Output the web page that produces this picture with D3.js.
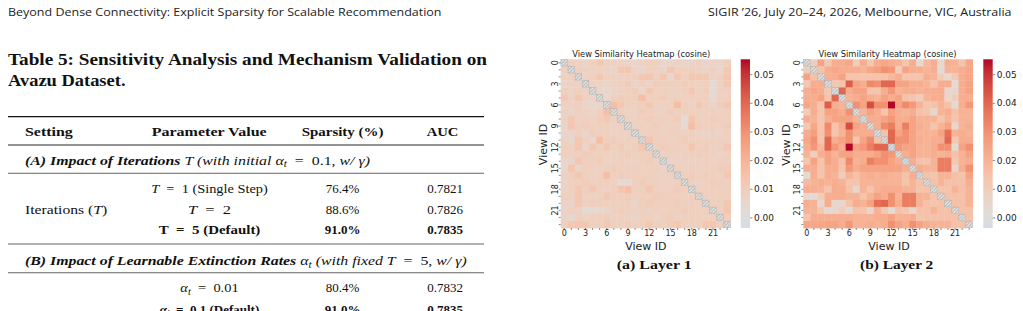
<!DOCTYPE html>
<html>
<head>
<meta charset="utf-8">
<script src="https://cdn.jsdelivr.net/npm/d3@7/dist/d3.min.js"></script>
<style>
  html, body { margin: 0; padding: 0; background: #fff; }
  svg { display: block; }
</style>
</head>
<body>
<svg id="page" width="1023" height="311"></svg>
<script>
// ---------- data ----------
const viewIds = d3.range(24);
const tickIds = [0, 3, 6, 9, 12, 15, 18, 21];
const cbarTicks = [0, 0.01, 0.02, 0.03, 0.04, 0.05];
const VMIN = -0.0037, VMAX = 0.0552;

// cosine similarity, lower triangle (row i holds cols 0..i-1), in units of 0.001
const layer1Lower = [
  [9],
  [8, 9],
  [6, 8, 8],
  [9, 8, 9, 8],
  [12, 8, 12, 8, 6],
  [8, 8, 9, 6, 5, 5],
  [8, 6, 9, 8, 6, 9, 16],
  [8, 12, 8, 9, 8, 10, 12, 9],
  [6, 13, 9, 10, 9, 9, 9, 8, 9],
  [5, 6, 9, 6, 10, 9, 9, 8, 8, 8],
  [8, 5, 12, 9, 5, 16, 9, 10, 9, 9, 8],
  [9, 9, 13, 6, 12, 9, 12, 9, 10, 8, 9, 13],
  [9, 8, 9, 10, 9, 9, 8, 8, 9, 10, 9, 9, 9],
  [5, 6, 12, 9, 9, 10, 8, 8, 9, 8, 8, 9, 10, 8],
  [5, 13, 5, 9, 8, 8, 9, 10, 9, 9, 9, 8, 9, 9, 6],
  [8, 9, 12, 9, 8, 9, 16, 9, 10, 9, 9, 9, 9, 8, 8, 9],
  [6, 9, 9, 10, 9, 9, 9, 9, 3, 3, 9, 10, 9, 9, 8, 8, 9],
  [6, 9, 12, 9, 12, 9, 8, 9, 13, 16, 9, 9, 13, 9, 8, 9, 10, 9],
  [9, 8, 12, 8, 8, 9, 12, 9, 9, 10, 8, 9, 9, 10, 9, 9, 9, 8, 9],
  [6, 6, 12, 9, 10, 9, 9, 9, 9, 9, 6, 9, 10, 9, 9, 9, 10, 9, 9, 9],
  [6, 9, 8, 3, 3, 4, 6, 9, 10, 9, 8, 9, 8, 9, 8, 9, 9, 10, 9, 9, 9],
  [6, 5, 9, 8, 9, 9, 10, 8, 9, 8, 6, 9, 9, 6, 9, 10, 8, 9, 9, 9, 9, 9],
  [9, 12, 13, 12, 9, 9, 12, 9, 9, 10, 9, 9, 12, 9, 9, 10, 12, 9, 9, 9, 12, 13, 9]
];

const layer2Lower = [
  [10],
  [25, 15],
  [12, 22, 22],
  [22, 24, 22, 12],
  [22, 22, 25, 14, 40],
  [24, 22, 14, 42, 22, 20],
  [10, 22, 14, 25, 25, 22, 30],
  [22, 20, 14, 22, 25, 25, 25, 20],
  [12, 24, 14, 32, 14, 22, 45, 25, 22],
  [22, 26, 14, 30, 14, 20, 30, 22, 22, 22],
  [24, 30, 14, 40, 22, 25, 30, 14, 25, 32, 15],
  [22, 28, 18, 40, 28, 22, 55, 25, 28, 35, 40, 40],
  [20, 10, 22, 25, 20, 25, 25, 22, 22, 22, 25, 30, 28],
  [14, 25, 14, 25, 22, 15, 32, 20, 22, 35, 30, 30, 25, 22],
  [22, 22, 14, 22, 22, 14, 28, 22, 25, 25, 25, 25, 25, 25, 22],
  [3, 22, 14, 22, 20, 10, 20, 15, 20, 22, 20, 22, 20, 20, 15, 22],
  [18, 20, 22, 20, 22, 20, 14, 14, 20, 20, 20, 20, 20, 20, 14, 20, 15],
  [22, 22, 20, 14, 22, 22, 15, 5, 20, 14, 20, 22, 22, 22, 20, 20, 14, 15],
  [4, 2, 10, 22, 22, 22, 20, 20, 14, 20, 25, 22, 30, 20, 35, 35, 20, 20, 14],
  [22, 20, 4, 22, 5, 5, 15, 22, 20, 25, 38, 40, 30, 22, 35, 35, 20, 15, 14, 15],
  [20, 20, 12, 3, 5, 10, 3, 15, 14, 5, 20, 12, 3, 15, 12, 5, 15, 15, 20, 15, 15],
  [14, 22, 22, 22, 22, 22, 22, 20, 20, 20, 22, 22, 25, 20, 20, 22, 14, 15, 15, 15, 15, 15],
  [24, 24, 24, 25, 25, 22, 28, 20, 20, 22, 20, 22, 30, 25, 22, 30, 25, 22, 20, 20, 20, 15, 15]
];

// table 5
const tableHeader = ["Setting", "Parameter Value", "Sparsity (%)", "AUC"];
const iterSparsity = ["76.4%", "88.6%", "91.0%"];
const iterAUC = ["0.7821", "0.7826", "0.7835"];
const rateSparsity = ["80.4%", "91.0%"];
const rateAUC = ["0.7832", "0.7835"];

// ---------- helpers ----------
const SERIF = "'Liberation Serif', 'DejaVu Serif', serif";
const SANS = "'DejaVu Sans', sans-serif";
const EQ = "\u2002=\u2002";  // math-style spacing around "="
const svg = d3.select("#page");

// matplotlib coolwarm (Moreland, 33 points)
const CW = [
  [0.2298, 0.2987, 0.7537], [0.2662, 0.3531, 0.8015], [0.3039, 0.4065, 0.8450], [0.3428, 0.4588, 0.8837],
  [0.3830, 0.5094, 0.9174], [0.4244, 0.5581, 0.9456], [0.4667, 0.6046, 0.9682], [0.5096, 0.6483, 0.9848],
  [0.5530, 0.6889, 0.9954], [0.5963, 0.7261, 0.9998], [0.6392, 0.7596, 0.9982], [0.6813, 0.7890, 0.9904],
  [0.7222, 0.8140, 0.9766], [0.7615, 0.8343, 0.9569], [0.7987, 0.8498, 0.9317], [0.8335, 0.8602, 0.9011],
  [0.8654, 0.8654, 0.8654], [0.8978, 0.8489, 0.8209], [0.9241, 0.8274, 0.7745], [0.9445, 0.8009, 0.7267],
  [0.9589, 0.7698, 0.6780], [0.9673, 0.7341, 0.6288], [0.9700, 0.6943, 0.5794], [0.9668, 0.6504, 0.5303],
  [0.9580, 0.6028, 0.4818], [0.9437, 0.5518, 0.4342], [0.9239, 0.4973, 0.3880], [0.8990, 0.4396, 0.3432],
  [0.8692, 0.3783, 0.3003], [0.8346, 0.3129, 0.2593], [0.7956, 0.2413, 0.2205], [0.7525, 0.1572, 0.1841],
  [0.7057, 0.0156, 0.1502]
];
function coolwarm(t) {
  t = Math.max(0, Math.min(1, t));
  const k = t * 32, i = Math.min(31, Math.floor(k)), f = k - i;
  const c = CW[i].map((a, n) => Math.round(255 * (a + (CW[i + 1][n] - a) * f)));
  return `rgb(${c[0]},${c[1]},${c[2]})`;
}
// seaborn center=0: symmetric range around zero
const color = v => coolwarm(0.5 + v / (2 * VMAX));

function fullMatrix(lower) {
  const M = viewIds.map(() => viewIds.map(() => NaN));
  lower.forEach((row, k) => row.forEach((v, j) => {
    M[k + 1][j] = v / 1000;
    M[j][k + 1] = v / 1000;
  }));
  return M;
}

// rich text: segments [text, style] with style b=bold, i=italic, _=subscript
function rich(parent, x, y, segs, o = {}) {
  const size = o.size || 13;
  const t = parent.append("text")
    .attr("x", x).attr("y", y)
    .attr("font-family", o.family || SERIF)
    .attr("font-size", size)
    .attr("font-weight", o.bold ? "bold" : null)
    .attr("text-anchor", o.anchor || "start")
    .attr("fill", o.fill || "#111");
  let down = false;
  segs.forEach(s => {
    const [str, st] = typeof s === "string" ? [s, ""] : [s[0], s[1] || ""];
    const sp = t.append("tspan").text(str);
    if (st.includes("b")) sp.attr("font-weight", "bold");
    if (st.includes("i")) sp.attr("font-style", "italic");
    if (st.includes("_")) {
      sp.attr("font-size", size * 0.72).attr("dy", size * 0.22);
      down = true;
    } else if (down) {
      sp.attr("dy", -size * 0.22);
      down = false;
    }
  });
  if (o.len) t.attr("textLength", o.len).attr("lengthAdjust", "spacingAndGlyphs");
  return t;
}

// ---------- page header ----------
rich(svg, 8, 15.5, ["Beyond Dense Connectivity: Explicit Sparsity for Scalable Recommendation"],
  { family: "'Open Sans', sans-serif", size: 11, len: 433.5, fill: "#222" });
rich(svg, 708, 15.5, ["SIGIR \u201926, July 20\u201324, 2026, Melbourne, VIC, Australia"],
  { family: "'Open Sans', sans-serif", size: 11, len: 303.5, fill: "#222" });

// ---------- table ----------
const tbl = svg.append("g");
rich(tbl, 8, 64.5, ["Table 5: Sensitivity Analysis and Mechanism Validation on"], { size: 17.5, bold: true, len: 479 });
rich(tbl, 8, 85.5, ["Avazu Dataset."], { size: 17.5, bold: true, len: 117.5 });

const rule = (y, w, c) => tbl.append("line").attr("x1", 8).attr("x2", 484)
  .attr("y1", y).attr("y2", y).attr("stroke", c).attr("stroke-width", w);
rule(116.7, 1.3, "#111");
rule(145, 0.9, "#111");
rule(173.3, 1.1, "#666");
rule(244, 1.1, "#666");
rule(272.7, 1.1, "#666");

const colX = [25, 209.5, 342.5, 445];
const hdrX = [25, 151.7, 301.7, 426.7], hdrW = [47.7, 115, 81.7, 31.7];
tableHeader.forEach((h, i) => rich(tbl, hdrX[i], 136, [h], { bold: true, len: hdrW[i] }));

rich(tbl, 25, 164.5, [["(A) Impact of Iterations ", "bi"], ["T", "i"], [" (with initial ", "i"],
  ["\u03b1", "i"], ["t", "i_"], [EQ + "0.1, "], ["w/ \u03b3)", "i"]], { len: 345 });

const iterParams = [
  [[["T", "i"], EQ + "1 (Single Step)"], 116.6, false],
  [[["T", "i"], EQ + "2"], 43, false],
  [["T" + EQ + "5 (Default)"], 101.7, true]
];
const iterY = [193.3, 213.5, 234];
iterParams.forEach((p, i) => {
  rich(tbl, colX[1], iterY[i], p[0], { anchor: "middle", len: p[1], bold: p[2] });
  rich(tbl, colX[2], iterY[i], [iterSparsity[i]], { anchor: "middle", bold: p[2] });
  rich(tbl, colX[3], iterY[i], [iterAUC[i]], { anchor: "middle", bold: p[2] });
});
rich(tbl, 25, 213.5, ["Iterations (", ["T", "i"], ")"], { len: 82.3 });

rich(tbl, 25, 265, [["(B) Impact of Learnable Extinction Rates ", "bi"], ["\u03b1", "i"], ["t", "i_"],
  [" (with ", "i"], ["fixed ", "i"], ["T", "i"], [EQ + "5, "], ["w/ \u03b3)", "i"]], { len: 441.7 });

const rateParams = [
  [[["\u03b1", "i"], ["t", "i_"], EQ + "0.01"], 58.3, false],
  [[["\u03b1", "bi"], ["t", "bi_"], EQ + "0.1 (Default)"], null, true]
];
const rateY = [291.7, 313.5];
rateParams.forEach((p, i) => {
  rich(tbl, colX[1], rateY[i], p[0], { anchor: "middle", len: p[1], bold: p[2] });
  rich(tbl, colX[2], rateY[i], [rateSparsity[i]], { anchor: "middle", bold: p[2] });
  rich(tbl, colX[3], rateY[i], [rateAUC[i]], { anchor: "middle", bold: p[2] });
});

// ---------- heatmaps ----------
const defs = svg.append("defs");
const pat = defs.append("pattern").attr("id", "hatch").attr("patternUnits", "userSpaceOnUse")
  .attr("width", 2.4).attr("height", 2.4).attr("patternTransform", "rotate(45)");
pat.append("rect").attr("width", 2.4).attr("height", 2.4).attr("fill", "#dedede");
pat.append("line").attr("x1", 0).attr("y1", 0).attr("x2", 0).attr("y2", 2.4)
  .attr("stroke", "#9a9a9a").attr("stroke-width", 0.9);

const grad = defs.append("linearGradient").attr("id", "cbar")
  .attr("x1", 0).attr("y1", 1).attr("x2", 0).attr("y2", 0);
d3.range(0, 41).forEach(k => {
  const v = VMIN + (VMAX - VMIN) * k / 40;
  grad.append("stop").attr("offset", k / 40).attr("stop-color", color(v));
});

function drawHeatmap(lower, L) {
  const g = svg.append("g");
  const M = fullMatrix(lower);
  const x = d3.scaleBand().domain(viewIds).range([L.x0, L.x1]);
  const y = d3.scaleBand().domain(viewIds).range([L.y0, L.y1]);

  const cells = [];
  viewIds.forEach(i => viewIds.forEach(j => { if (i !== j) cells.push({ i, j, v: M[i][j] }); }));
  g.selectAll("rect.cell").data(cells).join("rect").attr("class", "cell")
    .attr("x", d => x(d.j)).attr("y", d => y(d.i))
    .attr("width", x.bandwidth() + 0.35).attr("height", y.bandwidth() + 0.35)
    .attr("fill", d => color(d.v));
  g.selectAll("rect.diag").data(viewIds).join("rect").attr("class", "diag")
    .attr("x", d => x(d) + 0.25).attr("y", d => y(d) + 0.25)
    .attr("width", x.bandwidth() - 0.5).attr("height", y.bandwidth() - 0.5)
    .attr("fill", "url(#hatch)").attr("stroke", "#a8a8a8").attr("stroke-width", 0.5);

  const fmt = d => tickIds.includes(d) ? d : "";
  const ya = g.append("g").attr("transform", `translate(${L.x0},0)`)
    .call(d3.axisLeft(y).tickSize(2).tickFormat(fmt));
  const xa = g.append("g").attr("transform", `translate(0,${L.y1})`)
    .call(d3.axisBottom(x).tickSize(2).tickPadding(0).tickFormat(fmt));
  [ya, xa].forEach(a => {
    a.attr("font-family", SANS).attr("font-size", 8);
    a.select(".domain").remove();
    a.selectAll("line").attr("stroke", "#444").attr("stroke-width", 0.6);
    a.selectAll("text").attr("fill", "#222");
  });
  ya.selectAll("text").attr("transform", "rotate(-90)")
    .attr("x", 0).attr("y", -2.9).attr("dy", 0).attr("text-anchor", "middle");

  g.append("text").attr("x", L.titleX).attr("y", 57).attr("text-anchor", "middle")
    .attr("font-family", SANS).attr("font-size", 8.3).attr("fill", "#222")
    .text("View Similarity Heatmap (cosine)");
  g.append("text").attr("x", L.xlabX).attr("y", 249.5).attr("text-anchor", "middle")
    .attr("font-family", SANS).attr("font-size", 11).attr("fill", "#222").text("View ID");
  g.append("text").attr("transform", `translate(${L.ylabX},${L.ylabY}) rotate(-90)`)
    .attr("text-anchor", "middle").attr("font-family", SANS).attr("font-size", 11)
    .attr("fill", "#222").text("View ID");

  // colorbar
  const cb = d3.scaleLinear().domain([VMIN, VMAX]).range([L.y1, L.y0]);
  g.append("rect").attr("x", L.cbx).attr("y", L.y0).attr("width", L.cbw)
    .attr("height", L.y1 - L.y0).attr("fill", "url(#cbar)");
  const ca = g.append("g").attr("transform", `translate(${L.cbx + L.cbw},0)`)
    .call(d3.axisRight(cb).tickValues(cbarTicks).tickFormat(d3.format(".2f")).tickSize(2.5).tickPadding(1.5));
  ca.attr("font-family", SANS).attr("font-size", 9);
  ca.select(".domain").remove();
  ca.selectAll("line").attr("stroke", "#444").attr("stroke-width", 0.6);
  ca.selectAll("text").attr("fill", "#222");

  rich(svg, L.capX, 269, [L.caption], { size: 13, bold: true, len: L.capW });
}

drawHeatmap(layer1Lower, {
  x0: 560.7, x1: 730.7, y0: 59.3, y1: 228, cbx: 740.7, cbw: 9.3,
  titleX: 641.3, xlabX: 645.8, ylabX: 546.7, ylabY: 144.5,
  caption: "(a) Layer 1", capX: 616.7, capW: 75
});
drawHeatmap(layer2Lower, {
  x0: 803.3, x1: 972.7, y0: 59.3, y1: 228, cbx: 983.3, cbw: 9.4,
  titleX: 887.5, xlabX: 889, ylabX: 790, ylabY: 145,
  caption: "(b) Layer 2", capX: 860, capW: 73.3
});
</script>
</body>
</html>
